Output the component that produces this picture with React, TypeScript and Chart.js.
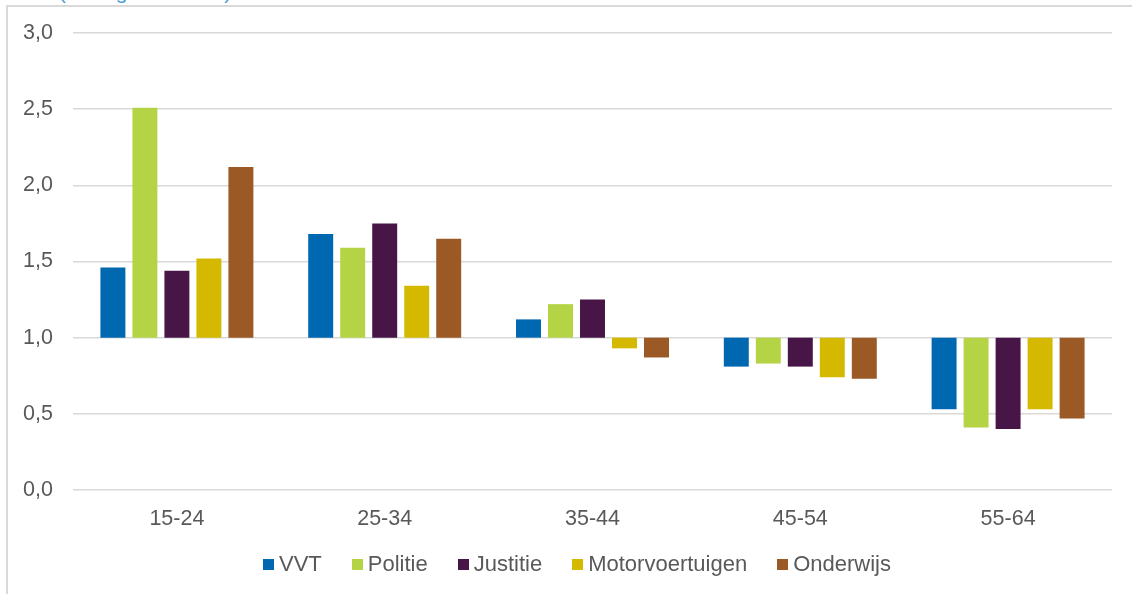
import React, { useEffect, useRef } from "react";
import { Chart, registerables } from "chart.js";

Chart.register(...registerables);

const categories = ["15-24", "25-34", "35-44", "45-54", "55-64"];
const seriesNames = ["VVT", "Politie", "Justitie", "Motorvoertuigen", "Onderwijs"];
const vvt = [1.46, 1.68, 1.12, 0.81, 0.53];
const politie = [2.51, 1.59, 1.22, 0.83, 0.41];
const justitie = [1.44, 1.75, 1.25, 0.81, 0.4];
const motorvoertuigen = [1.52, 1.34, 0.93, 0.74, 0.53];
const onderwijs = [2.12, 1.65, 0.87, 0.73, 0.47];
const baseline = 1.0;
const yTickLabels = ["0,0", "0,5", "1,0", "1,5", "2,0", "2,5", "3,0"];
const titleText = "Ratio (t.o.v. gemiddelde)";

const seriesValues = [vvt, politie, justitie, motorvoertuigen, onderwijs];
const colors = ["#0067b1", "#b4d446", "#481547", "#d5b900", "#9b5926"];

const FONT = "'Liberation Sans', Arial, sans-serif";
const TEXT = "#595959";

const legendPlugin = {
  id: "customLegend",
  afterDraw(chart: any) {
    const ctx = chart.ctx as CanvasRenderingContext2D;
    const datasets = chart.data.datasets;
    ctx.save();
    ctx.font = `22px ${FONT}`;
    const box = 11;
    const gapText = 5;
    const gapItem = 30;
    const widths = datasets.map((d: any) => box + gapText + ctx.measureText(d.label).width);
    const total = widths.reduce((a: number, b: number) => a + b, 0) + gapItem * (datasets.length - 1);
    let x = 577 - total / 2;
    const yText = 571;
    datasets.forEach((d: any, i: number) => {
      ctx.fillStyle = d.backgroundColor;
      ctx.fillRect(Math.round(x), 559, box, box);
      ctx.fillStyle = TEXT;
      ctx.textBaseline = "alphabetic";
      ctx.textAlign = "left";
      ctx.fillText(d.label, x + box + gapText, yText);
      x += widths[i] + gapItem;
    });
    ctx.restore();
  },
};

export default function App() {
  const canvasRef = useRef<HTMLCanvasElement | null>(null);

  useEffect(() => {
    if (!canvasRef.current) return;
    const chart = new Chart(canvasRef.current, {
      type: "bar",
      data: {
        labels: categories,
        datasets: seriesNames.map((name, i) => ({
          label: name,
          data: seriesValues[i].map((v) => [baseline, v]) as any,
          backgroundColor: colors[i],
          borderWidth: 0,
          categoryPercentage: 0.77,
          barPercentage: 0.78,
        })),
      },
      options: {
        responsive: false,
        animation: false,
        layout: { padding: { left: 0, right: 20, top: 33, bottom: 0 } },
        plugins: {
          legend: { display: false },
          tooltip: { enabled: false },
          title: { display: false },
        },
        scales: {
          x: {
            grid: { display: false, drawTicks: false },
            border: { display: false },
            ticks: {
              color: TEXT,
              font: { family: FONT, size: 21.5 },
              padding: 16,
              maxRotation: 0,
            },
            afterFit(scale: any) {
              scale.height = 104;
            },
          },
          y: {
            min: 0,
            max: 3,
            grid: { color: "#d9d9d9", lineWidth: 1.5, drawTicks: false },
            border: { display: false },
            ticks: {
              stepSize: 0.5,
              color: TEXT,
              font: { family: FONT, size: 21.5 },
              padding: 20,
              callback: (_v: any, idx: number) => yTickLabels[idx],
            },
            afterFit(scale: any) {
              scale.width = 73;
            },
          },
        },
      },
      plugins: [legendPlugin],
    });
    return () => chart.destroy();
  }, []);

  return (
    <div
      style={{
        position: "absolute",
        left: 0,
        top: 0,
        width: 1132,
        height: 594,
        overflow: "hidden",
        background: "#ffffff",
      }}
    >
      <div
        style={{
          position: "absolute",
          left: 4,
          top: -19,
          fontFamily: FONT,
          fontSize: 21,
          lineHeight: "21px",
          color: "#4f9fdc",
          whiteSpace: "nowrap",
        }}
      >
        {titleText}
      </div>
      <div
        style={{
          position: "absolute",
          left: 6,
          top: 5,
          width: 1200,
          height: 700,
          borderLeft: "2px solid #d9d9d9",
          borderTop: "2px solid #d9d9d9",
          background: "#ffffff",
        }}
      />
      <canvas
        ref={canvasRef}
        width={1132}
        height={594}
        style={{ position: "absolute", left: 0, top: 0, display: "block" }}
      />
    </div>
  );
}
